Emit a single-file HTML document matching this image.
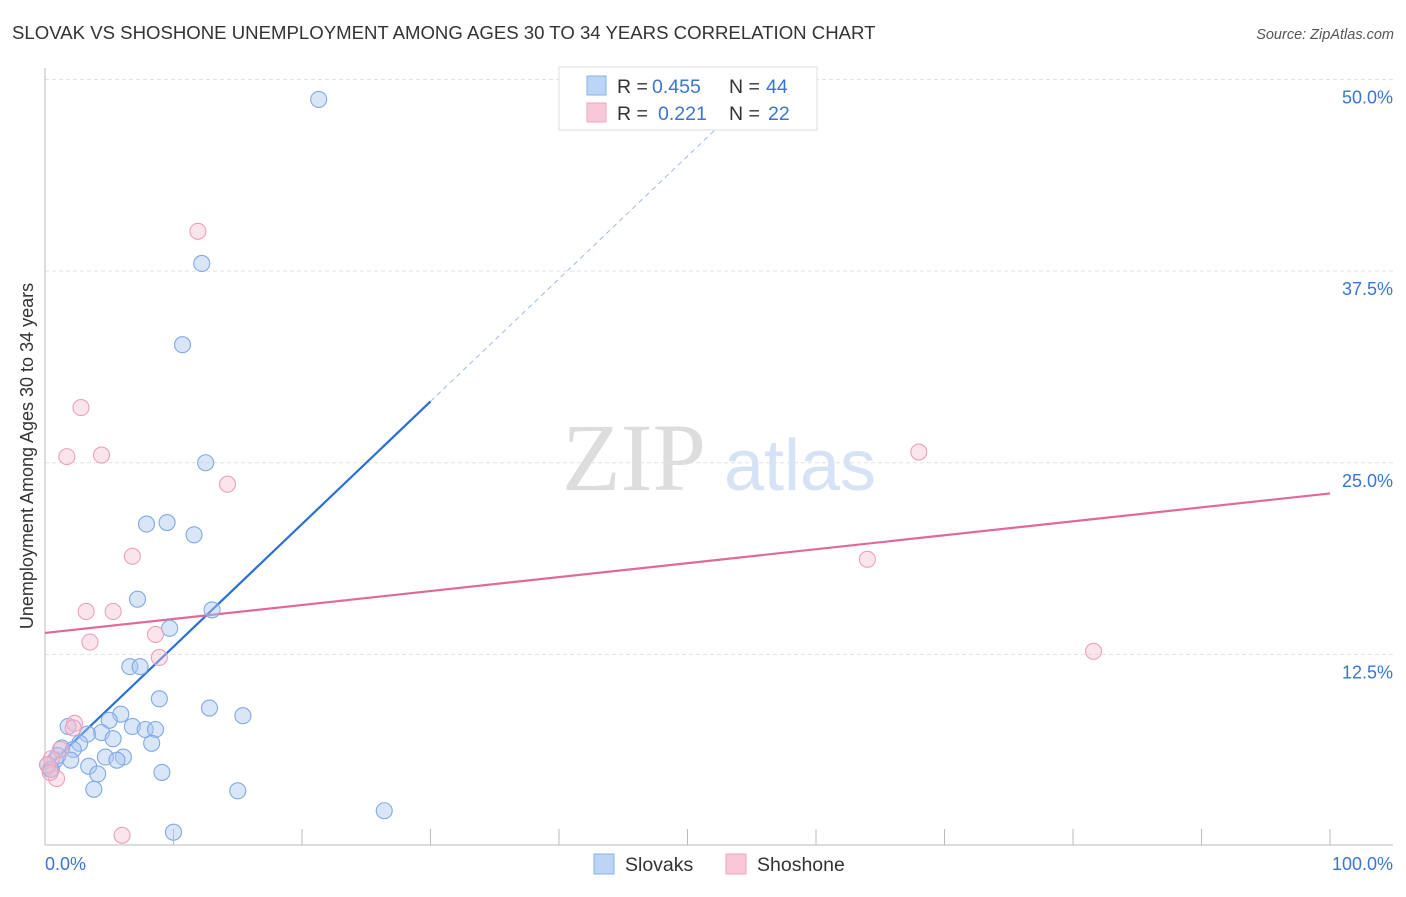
<!DOCTYPE html>
<html><head><meta charset="utf-8"><style>
body{margin:0;background:#fff;font-family:"Liberation Sans",sans-serif;}
svg text{font-family:"Liberation Sans",sans-serif;}
</style></head><body>
<svg width="1406" height="892" id="chart">
<text x="12" y="39" font-size="18.6" fill="#333">SLOVAK VS SHOSHONE UNEMPLOYMENT AMONG AGES 30 TO 34 YEARS CORRELATION CHART</text>
<text x="1394" y="39" font-size="14.5" fill="#555" font-style="italic" text-anchor="end">Source: ZipAtlas.com</text>
<text x="634" y="490" font-size="96" fill="#ddd" font-family="Liberation Serif" text-anchor="middle" style="font-family:'Liberation Serif',serif">ZIP</text>
<text x="800" y="490" font-size="72" fill="#d6e2f5" text-anchor="middle">atlas</text>
<text x="33" y="456" font-size="18" fill="#333" text-anchor="middle" transform="rotate(-90 33 456)">Unemployment Among Ages 30 to 34 years</text>
<g id="grid"></g>
<g id="axes"></g>
<g id="lines"></g>
<g id="pts"></g>
<g>
<rect x="559" y="67" width="258" height="63" fill="#fff" stroke="#ddd"/>
<rect x="587" y="76" width="19" height="19" fill="#bcd4f5" stroke="#8ab0e8"/>
<rect x="587" y="103" width="19" height="19" fill="#f9c8d8" stroke="#eea5bd"/>
<text x="617" y="93" font-size="19.5" fill="#333">R =</text>
<text x="652" y="93" font-size="19.5" fill="#3a74d4">0.455</text>
<text x="729" y="93" font-size="19.5" fill="#333">N =</text>
<text x="766" y="93" font-size="19.5" fill="#3a74d4">44</text>
<text x="617" y="120" font-size="19.5" fill="#333">R =</text>
<text x="658" y="120" font-size="19.5" fill="#3a74d4">0.221</text>
<text x="729" y="120" font-size="19.5" fill="#333">N =</text>
<text x="768" y="120" font-size="19.5" fill="#3a74d4">22</text>
</g>
<g>
<rect x="594" y="854" width="20" height="20" fill="#bcd4f5" stroke="#8ab0e8"/>
<text x="625" y="871" font-size="19.5" fill="#333">Slovaks</text>
<rect x="726" y="854" width="20" height="20" fill="#f9c8d8" stroke="#eea5bd"/>
<text x="757" y="871" font-size="19.5" fill="#333">Shoshone</text>
</g>
</svg>
<script>
const yTicks=[12.5,25,37.5,50];
const yTickLabels=["12.5%","25.0%","37.5%","50.0%"];
const xTickLabels=["0.0%","100.0%"];
const slovakX=[21.3,12.2,10.7,12.5,9.5,7.9,11.6,7.2,13.0,9.7,6.6,7.4,8.9,12.8,15.4,5.9,5.0,1.8,6.8,7.8,8.6,4.4,3.3,5.3,2.7,8.3,1.3,2.2,4.7,6.1,5.6,2.0,0.8,3.4,0.4,4.1,9.1,3.8,15.0,26.4,10.0,1.0,0.2,0.5];
const slovakY=[48.7,38.0,32.7,25.0,21.1,21.0,20.3,16.1,15.4,14.2,11.7,11.7,9.6,9.0,8.5,8.6,8.2,7.8,7.8,7.6,7.6,7.4,7.3,7.0,6.7,6.7,6.4,6.3,5.8,5.8,5.6,5.6,5.6,5.2,5.0,4.7,4.8,3.7,3.6,2.3,0.9,5.9,5.3,5.0];
const shoX=[11.9,2.8,1.7,4.4,14.2,68.0,6.8,64.0,3.2,5.3,8.6,3.5,8.9,81.6,2.3,2.2,1.2,0.5,0.2,0.9,6.0,0.4];
const shoY=[40.1,28.6,25.4,25.5,23.6,25.7,18.9,18.7,15.3,15.3,13.8,13.3,12.3,12.7,8.0,7.7,6.3,5.7,5.3,4.4,0.7,4.8];
const blueLine=[5.0,29.0,53.7];
const pinkLine=[13.9,23.0];
const NS="http://www.w3.org/2000/svg";
const X=v=>45+v*12.85, Y=v=>846-v*15.33;
function mk(p,t,a){const e=document.createElementNS(NS,t);for(const k in a)e.setAttribute(k,a[k]);document.getElementById(p).appendChild(e);return e;}
yTicks.forEach((t,i)=>{
 let l=mk('grid','line',{x1:45,x2:1393,y1:Y(t),y2:Y(t),stroke:'#e2e2e2','stroke-dasharray':'4,3'});
 
 
 let tx=mk('grid','text',{x:1393,y:Y(t)+24,'font-size':18,fill:'#3a74d4','text-anchor':'end'});
 tx.textContent=yTickLabels[i];
 
 
});
let ax=mk('axes','line',{x1:45,x2:1393,y1:845,y2:845,stroke:'#bbb'});


let ay=mk('axes','line',{x1:45,x2:45,y1:68,y2:845,stroke:'#bbb'});


for(let i=0;i<=10;i++){let t=mk('axes','line',{x1:X(i*10),x2:X(i*10),y1:829,y2:845,stroke:'#bbb'});
 
 }
[[0,'start',45],[100,'end',1393]].forEach((d,i)=>{let t=mk('axes','text',{x:d[2],y:870,'font-size':18,fill:'#3a74d4','text-anchor':d[1]});t.textContent=xTickLabels[i];
 
 });
const bs=(blueLine[1]-blueLine[0])/30;
let b1=mk('lines','line',{x1:X(0),y1:Y(blueLine[0]),x2:X(30),y2:Y(blueLine[1]),stroke:'#2a6fd6','stroke-width':2.2});


let b2=mk('lines','line',{x1:X(30),y1:Y(blueLine[1]),x2:X(blueLine[2]),y2:Y(blueLine[0]+bs*blueLine[2]),stroke:'#9bbbe8','stroke-width':1,'stroke-dasharray':'5,4'});


let p1=mk('lines','line',{x1:X(0),y1:Y(pinkLine[0]),x2:X(100),y2:Y(pinkLine[1]),stroke:'#e0699a','stroke-width':2.2});


slovakX.forEach((x,i)=>{let c=mk('pts','circle',{cx:X(x),cy:Y(slovakY[i]),r:8,fill:'rgba(170,200,240,0.45)',stroke:'#80a9e6','stroke-width':1.1});
 
 });
shoX.forEach((x,i)=>{let c=mk('pts','circle',{cx:X(x),cy:Y(shoY[i]),r:8,fill:'rgba(246,190,208,0.4)',stroke:'#eda0bb','stroke-width':1.1});
 
 });
</script>
</body></html>
